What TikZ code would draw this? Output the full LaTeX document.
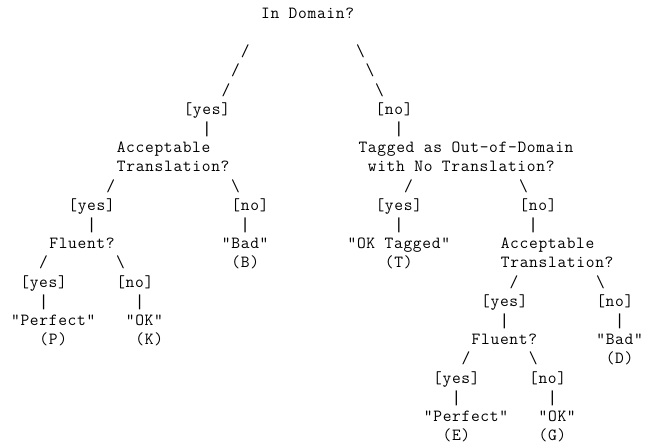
\documentclass[tikz,border=0pt]{standalone}
\usepackage{fontspec}
\setmonofont[LetterSpace=4.0]{Latin Modern Mono}
\newfontfamily\barfont{Liberation Mono}
\usepackage{tikz}

\begin{document}
\begin{tikzpicture}[x=9.6pt,y=19.2pt,
		txt/.style={font=\ttfamily\fontsize{17}{20}\selectfont,anchor=base,inner sep=0pt},
		bar/.style={font=\barfont\fontsize{16}{20}\selectfont,anchor=base,inner sep=0pt}]
		\useasboundingbox (-1.5417,0.9531) rectangle (66.0625,-22.1719);

		\node[txt] (dom) at (30.5,0) {In Domain?};
		\node[txt] (domL1) at (24,-2) {/};
		\node[txt] (domL2) at (23,-3) {/};
		\node[txt] (domL3) at (22,-4) {/};
		\node[txt] (domR1) at (36,-2) {\textbackslash};
		\node[txt] (domR2) at (37,-3) {\textbackslash};
		\node[txt] (domR3) at (38,-4) {\textbackslash};
		\node[txt] (domY) at (20,-5) {[yes]};
		\node[txt] (domN) at (39.5,-5) {[no]};
		\node[bar] (domYbar) at (20,-6) {|};
		\node[bar] (domNbar) at (40,-6) {|};

		% left branch
		\node[txt] (accA1) at (15.5,-7) {Acceptable};
		\node[txt] (accA2) at (16.5,-8) {Translation?};
		\node[txt] (accAL) at (10,-9) {/};
		\node[txt] (accAR) at (23,-9) {\textbackslash};
		\node[txt] (accAY) at (8,-10) {[yes]};
		\node[txt] (accAN) at (24.5,-10) {[no]};
		\node[bar] (accAYbar) at (8,-11) {|};
		\node[bar] (accANbar) at (24,-11) {|};
		\node[txt] (fluA) at (7,-12) {Fluent?};
		\node[txt] (badB) at (24,-12) {"Bad"};
		\node[txt] (badBc) at (24,-13) {(B)};
		\node[txt] (fluAL) at (3,-13) {/};
		\node[txt] (fluAR) at (11,-13) {\textbackslash};
		\node[txt] (fluAY) at (3,-14) {[yes]};
		\node[txt] (fluAN) at (12.5,-14) {[no]};
		\node[bar] (fluAYbar) at (3,-15) {|};
		\node[bar] (fluANbar) at (13,-15) {|};
		\node[txt] (perP) at (4,-16) {"Perfect"};
		\node[txt] (perPc) at (4,-17) {(P)};
		\node[txt] (okK) at (13.5,-16) {"OK"};
		\node[txt] (okKc) at (14,-17) {(K)};

		% right branch
		\node[txt] (tag1) at (47,-7) {Tagged as Out-of-Domain};
		\node[txt] (tag2) at (46.5,-8) {with No Translation?};
		\node[txt] (tagL) at (41,-9) {/};
		\node[txt] (tagR) at (53,-9) {\textbackslash};
		\node[txt] (tagY) at (40,-10) {[yes]};
		\node[txt] (tagN) at (54.5,-10) {[no]};
		\node[bar] (tagYbar) at (40,-11) {|};
		\node[bar] (tagNbar) at (54,-11) {|};
		\node[txt] (okT) at (40,-12) {"OK Tagged"};
		\node[txt] (okTc) at (40,-13) {(T)};
		\node[txt] (accB1) at (55.5,-12) {Acceptable};
		\node[txt] (accB2) at (56.5,-13) {Translation?};
		\node[txt] (accBL) at (52,-14) {/};
		\node[txt] (accBR) at (61,-14) {\textbackslash};
		\node[txt] (accBY) at (51,-15) {[yes]};
		\node[txt] (accBN) at (62.5,-15) {[no]};
		\node[bar] (accBYbar) at (51,-16) {|};
		\node[bar] (accBNbar) at (63,-16) {|};
		\node[txt] (fluB) at (51,-17) {Fluent?};
		\node[txt] (badD) at (63,-17) {"Bad"};
		\node[txt] (badDc) at (63,-18) {(D)};
		\node[txt] (fluBL) at (47,-18) {/};
		\node[txt] (fluBR) at (54,-18) {\textbackslash};
		\node[txt] (fluBY) at (46,-19) {[yes]};
		\node[txt] (fluBN) at (55.5,-19) {[no]};
		\node[bar] (fluBYbar) at (46,-20) {|};
		\node[bar] (fluBNbar) at (56,-20) {|};
		\node[txt] (perE) at (47,-21) {"Perfect"};
		\node[txt] (perEc) at (46,-22) {(E)};
		\node[txt] (okG) at (56.5,-21) {"OK"};
		\node[txt] (okGc) at (56,-22) {(G)};
	\end{tikzpicture}
\end{document}
